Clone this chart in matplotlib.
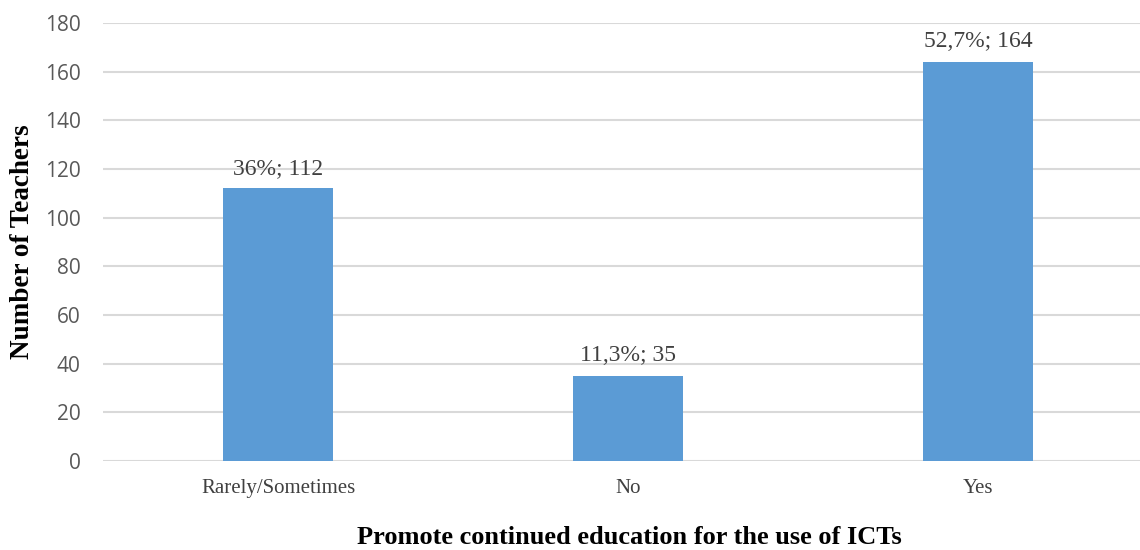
import matplotlib.pyplot as plt
import numpy as np

# data
categories = ['Rarely/Sometimes', 'No', 'Yes']
teachers = [112, 35, 164]
percents = ['36%', '11,3%', '52,7%']

fig = plt.figure(figsize=(11.4, 5.5), dpi=100)
ax = fig.add_axes([0.0904, 0.1618, 0.9096, 0.7964])

x = np.arange(len(categories))
bars = ax.bar(x, teachers, width=0.314, color='#5B9BD5', zorder=3)

for b, v, p in zip(bars, teachers, percents):
    ax.annotate(f'{p}; {v}', (b.get_x() + b.get_width() / 2, v),
                xytext=(0, 7), textcoords='offset points', ha='center', va='bottom',
                family='Liberation Serif', fontsize=17, color='#404040')

ax.set_xlim(-0.5, 2.463)
ax.set_ylim(0, 180)
ax.set_yticks(np.arange(0, 181, 20))
ax.set_xticks(x)
ax.set_xticklabels(categories, family='Liberation Serif', fontsize=15, color='#404040')
for t in ax.get_yticklabels():
    t.set_family('Open Sans')
    t.set_fontsize(15)
    t.set_color('#595959')
ax.tick_params(axis='y', length=0, pad=16)
ax.tick_params(axis='x', length=0, pad=13)

ax.grid(axis='y', color='#D9D9D9', lw=1.5, zorder=0)
ax.set_axisbelow(True)
for s in ax.spines.values():
    s.set_visible(False)

fig.text(0.02, 0.561, 'Number of Teachers', rotation=90, ha='center', va='center',
         family='Liberation Serif', fontweight='bold', fontsize=19.5)
fig.text(0.552, 0.022, 'Promote continued education for the use of ICTs', ha='center', va='center',
         family='Liberation Serif', fontweight='bold', fontsize=19)

fig.savefig('out.png', dpi=100)
